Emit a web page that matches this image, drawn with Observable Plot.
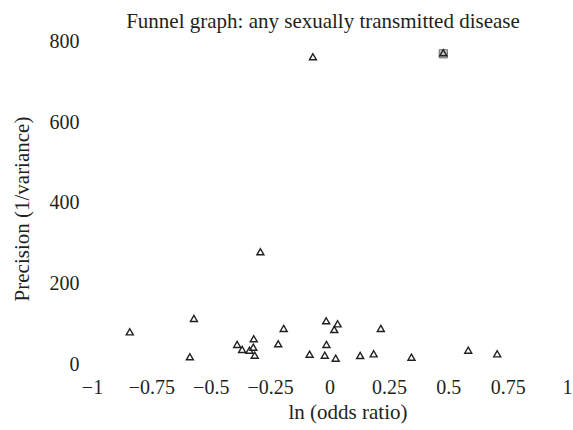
<!DOCTYPE html>
<html>
<head>
<meta charset="utf-8">
<script src="https://cdn.jsdelivr.net/npm/d3@7"></script>
<script src="https://cdn.jsdelivr.net/npm/@observablehq/plot@0.6"></script>
<style>
  html, body { margin: 0; padding: 0; background: #fff; }
</style>
</head>
<body>
<div id="chart"></div>
<script>
// Study effects (ln odds ratio) and precision (1/variance)
const lnOR = [-0.843, -0.573, -0.590, -0.391, -0.370, -0.321, -0.339, -0.323, -0.317,
              -0.218, -0.195, -0.086, -0.016, 0.032, 0.018, -0.015, -0.022, 0.024,
              0.214, 0.127, 0.184, 0.343, 0.582, 0.704, -0.072, 0.477, -0.293];
const precision = [78.5, 111.5, 16.6, 47.1, 34.7, 61.2, 32.9, 40.4, 20.6,
                   48.8, 86.7, 23, 105.8, 98.3, 84.2, 47.1, 20.6, 13.1,
                   86.7, 19.8, 24, 15.6, 32.9, 24, 759.7, 769.6, 276.7];
// Highlighted (boxed) study
const boxedLnOR = [0.477];
const boxedPrecision = [769.6];

const xTicks = [-1, -0.75, -0.5, -0.25, 0, 0.25, 0.5, 0.75, 1];
const yTicks = [0, 200, 400, 600, 800];
const titleText = "Funnel graph: any sexually transmitted disease";
const xLabel = "ln (odds ratio)";
const yLabel = "Precision (1/variance)";

const studies = lnOR.map((v, i) => ({x: v, y: precision[i]}));
const boxed = boxedLnOR.map((v, i) => ({x: v, y: boxedPrecision[i]}));

const ink = "#231f20";
const fmt = d => d < 0 ? "\u2212" + Math.abs(d) : String(d);

const chart = Plot.plot({
  width: 573,
  height: 430,
  marginLeft: 92,
  marginRight: 6,
  marginTop: 41,
  marginBottom: 66,
  style: {fontFamily: "'Liberation Serif', serif", fontSize: "20px", color: ink, background: "#fff"},
  x: {domain: [-1, 1]},
  y: {domain: [0, 800]},
  marks: [
    Plot.axisX({ticks: xTicks, tickFormat: fmt, tickSize: 0, tickPadding: 15, label: null, fill: ink}),
    Plot.axisY({ticks: yTicks, tickSize: 0, tickPadding: 13, label: null, fill: ink}),
    Plot.dot(boxed, {x: "x", y: "y", symbol: "square", r: 4.6, fill: "#c8c8c8", stroke: "#6a6a6a", strokeWidth: 1}),
    Plot.dot(studies, {x: "x", y: "y", symbol: "triangle", r: 2.6, fill: "none", stroke: ink, strokeWidth: 1.4}),
    Plot.text([titleText], {frameAnchor: "top", dy: -28, dx: -7, fill: ink, fontSize: 21}),
    Plot.text([xLabel], {frameAnchor: "bottom", dy: 54, dx: 18, fill: ink, fontSize: 21}),
    Plot.text([yLabel], {frameAnchor: "left", rotate: -90, textAnchor: "middle", dx: -70, dy: 6, fill: ink, fontSize: 21})
  ]
});
document.getElementById("chart").appendChild(chart);
</script>
</body>
</html>
